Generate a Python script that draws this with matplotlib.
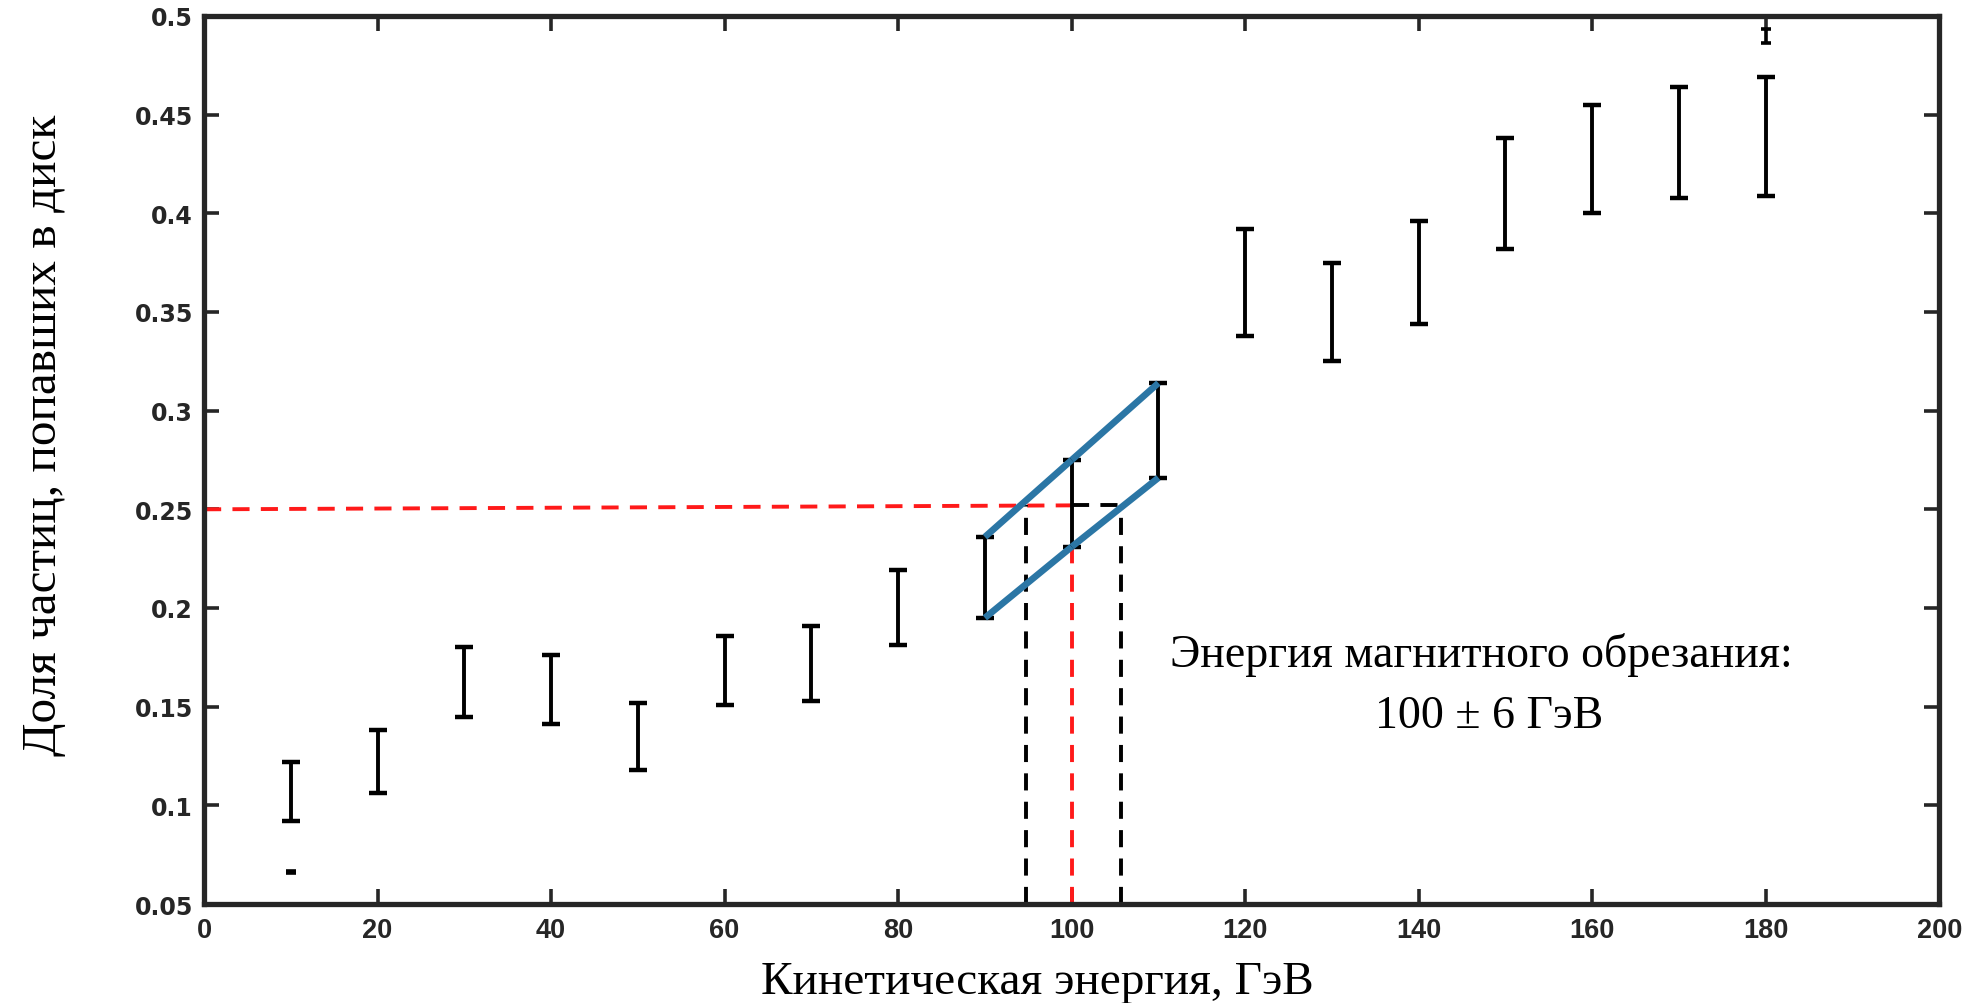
import numpy as np
import matplotlib.pyplot as plt
from matplotlib.ticker import MultipleLocator, FuncFormatter

# error bar ranges
energy = [10, 20, 30, 40, 50, 60, 70, 80, 90, 100, 110, 120, 130, 140, 150, 160, 170, 180]
low = [0.092, 0.106, 0.145, 0.141, 0.118, 0.151, 0.153, 0.181, 0.195, 0.231, 0.266,
       0.338, 0.325, 0.344, 0.382, 0.400, 0.408, 0.409]
high = [0.122, 0.138, 0.180, 0.176, 0.152, 0.186, 0.191, 0.219, 0.236, 0.275, 0.314,
        0.392, 0.375, 0.396, 0.438, 0.455, 0.464, 0.469]

# two tiny bars
tiny_x = [10, 180]
tiny_low = [0.0655, 0.4865]
tiny_high = [0.0665, 0.4935]

# cut-off construction
band = [90, 100, 110]
cut_E = 100
cut_lo, cut_hi = 94.7, 105.7
level = 0.252

serif = 'Liberation Serif'
dark = '#262626'

fig = plt.figure(figsize=(19.64, 10.04), dpi=100)
ax = fig.add_axes([0.1039, 0.0986, 0.8835, 0.8845])

low = np.array(low)
high = np.array(high)
mid = (low + high) / 2
ax.errorbar(energy, mid, yerr=(high - low) / 2, fmt='none', ecolor='k',
            elinewidth=2.8, capsize=6.5, capthick=3.2, zorder=3)
tl = np.array(tiny_low)
th = np.array(tiny_high)
ax.errorbar(tiny_x, (tl + th) / 2, yerr=(th - tl) / 2, fmt='none', ecolor='k',
            elinewidth=2.6, capsize=3.5, capthick=2.6, zorder=3)

# blue band through the ends of the 90-110 bars
idx = [energy.index(e) for e in band]
for j in range(len(idx) - 1):
    a, b = idx[j], idx[j + 1]
    ax.plot([energy[a], energy[b]], [high[a], high[b]], color='#2b76a5', lw=4.8,
            solid_capstyle='butt', zorder=4)
    ax.plot([energy[a], energy[b]], [low[a], low[b]], color='#2b76a5', lw=4.8,
            solid_capstyle='butt', zorder=4)

# dashed guide lines
i100 = energy.index(cut_E)
dash = (4.4, 2.9)
ax.plot([0, cut_E], [0.25, level], color='#ff1a1a', lw=2.8, dashes=dash, zorder=2)
ax.plot([cut_E, cut_E], [0.05, low[i100]], color='#ff1a1a', lw=2.8, dashes=dash, zorder=2)
ax.plot([cut_E, cut_hi], [level, level], color='k', lw=2.8, dashes=dash, zorder=2)
for xe in [cut_lo, cut_hi]:
    ax.plot([xe, xe], [0.05, level], color='k', lw=2.8, dashes=dash, zorder=2)

ax.text(147.2, 0.1767, 'Энергия магнитного обрезания:', family=serif, fontsize=33,
        ha='center', va='center')
ax.text(148.1, 0.1455, '100 ± 6 ГэВ', family=serif, fontsize=33,
        ha='center', va='center')

ax.set_xlim(0, 200)
ax.set_ylim(0.05, 0.5)
ax.xaxis.set_major_locator(MultipleLocator(20))
ax.yaxis.set_major_locator(MultipleLocator(0.05))
ax.yaxis.set_major_formatter(FuncFormatter(lambda v, p: '%g' % round(v, 3)))

for s in ax.spines.values():
    s.set_linewidth(3.8)
    s.set_color(dark)
ax.tick_params(direction='in', length=11, width=2.6, color=dark,
               top=True, right=True, labelcolor=dark)
ax.tick_params(axis='x', pad=9)
ax.tick_params(axis='y', pad=8)
for lab in ax.get_xticklabels():
    lab.set_family('Liberation Sans')
    lab.set_fontweight('bold')
    lab.set_fontsize(19.5)
for lab in ax.get_yticklabels():
    lab.set_family('DejaVu Sans')
    lab.set_fontweight('bold')
    lab.set_fontsize(17)

ax.set_xlabel('Кинетическая энергия, ГэВ', family=serif, fontsize=34, va='center')
ax.xaxis.set_label_coords(0.48, -0.088)
ax.set_ylabel('Доля частиц, попавших в диск', family=serif, fontsize=35.5, va='center')
ax.yaxis.set_label_coords(-0.092, 0.529)

fig.savefig('out.png', dpi=100)
